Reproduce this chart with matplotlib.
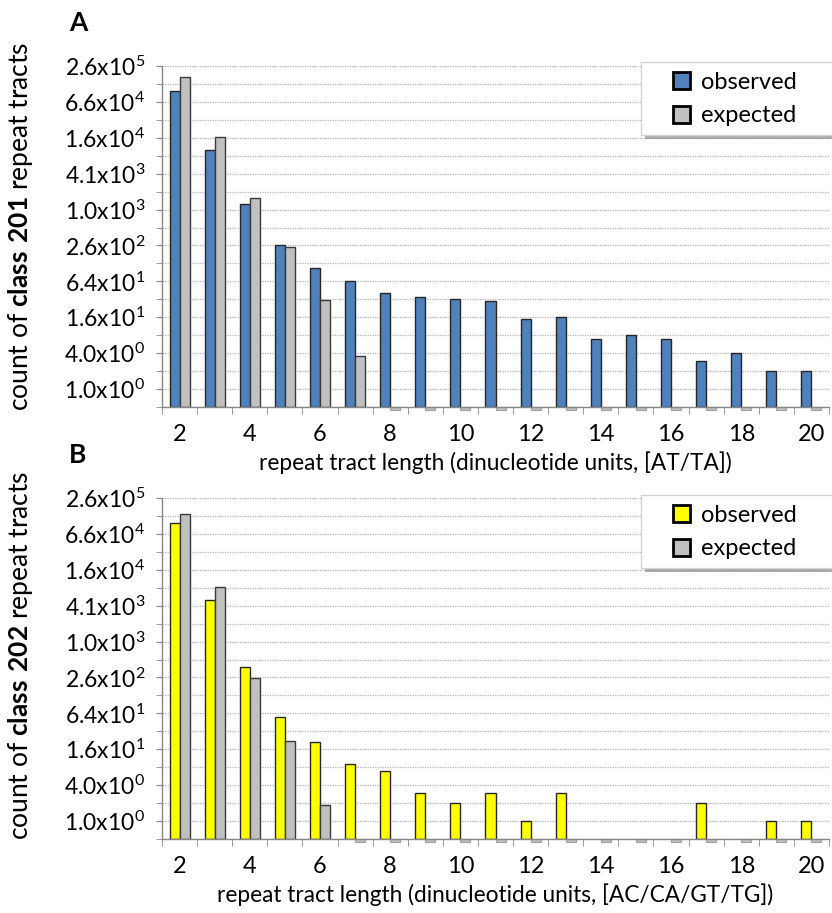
import numpy as np
import matplotlib
matplotlib.use('Agg')
import matplotlib.pyplot as plt
import matplotlib.patheffects as pe
from matplotlib.patches import Patch, Rectangle
from matplotlib.ticker import FixedLocator, FuncFormatter, NullFormatter

plt.rcParams['font.family'] = 'Lato'
plt.rcParams['mathtext.fontset'] = 'custom'
plt.rcParams['mathtext.rm'] = 'Lato'
plt.rcParams['mathtext.bf'] = 'Lato:bold'

# repeat tract length (dinucleotide units)
lengths = list(range(2, 21))

# class 201, [AT/TA]
obs_201 = [100000, 10300, 1270, 259, 108, 64, 41, 35, 32, 30, 15, 16, 7, 8, 7, 3, 4, 2, 2]
exp_201 = [174000, 17000, 1625, 237, 31, 3.6, 0, 0, 0, 0, 0, 0, 0, 0, 0, 0, 0, 0, 0]

# class 202, [AC/CA/GT/TG]
obs_202 = [100000, 5160, 382, 55, 21, 9, 7, 3, 2, 3, 1, 3, 0, 0, 0, 2, 0, 1, 1]
exp_202 = [143000, 8500, 250, 22.4, 1.83, 0, 0, 0, 0, 0, 0, 0, 0, 0, 0, 0, 0, 0, 0]

BLUE = '#4F81BD'
YELLOW = '#FFFF00'
GREY = '#C0C0C0'
AXIS_GREY = '#868686'

YMIN, YMAX = 2.0 ** -1, 2.0 ** 18
W = 832.0
H = 913.0


def sci_label(v, pos):
    e = int(np.floor(np.log10(v) + 1e-9))
    m = v / 10 ** e
    return r'$\mathregular{%.1fx10^{%d}}$' % (m, e)


def draw_panel(ax, obs, exp, obs_color, xlabel):
    x = np.arange(len(lengths))
    w = 0.285
    obs = np.array(obs, dtype=float)
    exp = np.array(exp, dtype=float)

    nz = obs > 0
    ax.bar(x[nz] - w, obs[nz] - YMIN, width=w, bottom=YMIN, align='edge',
           color=obs_color, edgecolor='#262626', linewidth=1.0)
    nz = exp > 0
    ax.bar(x[nz], exp[nz] - YMIN, width=w, bottom=YMIN, align='edge',
           color=GREY, edgecolor='#3a3a3a', linewidth=1.0)
    # zero values show as a small stub under the axis
    z = exp == 0
    stub = YMIN * 2 ** -0.17
    ax.bar(x[z], YMIN - stub, width=w, bottom=stub, align='edge',
           color=GREY, edgecolor='#a0a0a0', linewidth=0.8, clip_on=False)

    ax.set_yscale('log', base=2)
    ax.set_ylim(YMIN, YMAX)
    ax.yaxis.set_major_locator(FixedLocator([4.0 ** k for k in range(10)]))
    ax.yaxis.set_minor_locator(FixedLocator([2.0 ** (2 * k + 1) for k in range(-1, 9)]))
    ax.yaxis.set_major_formatter(FuncFormatter(sci_label))
    ax.yaxis.set_minor_formatter(NullFormatter())
    ax.grid(which='both', axis='y', color='#b4b4b4', linestyle=(0, (1, 1)), linewidth=0.9)
    ax.set_axisbelow(True)

    ax.set_xlim(-0.5, len(lengths) - 0.5)
    ax.set_xticks(x[::2])
    ax.set_xticklabels([str(v) for v in lengths[::2]])
    ax.xaxis.set_minor_locator(FixedLocator(np.arange(-0.5, len(lengths), 1.0)))

    ax.tick_params(axis='y', which='both', length=4, color=AXIS_GREY, pad=8, labelsize=16.5)
    ax.tick_params(axis='x', which='major', length=0, pad=12, labelsize=17)
    ax.tick_params(axis='x', which='minor', length=5, color=AXIS_GREY)

    for s in ('top', 'right'):
        ax.spines[s].set_visible(False)
    for s in ('left', 'bottom'):
        ax.spines[s].set_color(AXIS_GREY)
        ax.spines[s].set_linewidth(1.0)

    ax.set_xlabel(xlabel, fontsize=16.3, labelpad=5)


def add_legend(fig, top_px, obs_color):
    box = Rectangle((641 / W, 1 - (top_px + 73) / H), 0.3, 73 / H,
                    transform=fig.transFigure, facecolor='white',
                    edgecolor='#d4d4d4', linewidth=1.0, zorder=5,
                    path_effects=[pe.withSimplePatchShadow(offset=(3, -3),
                                                           shadow_rgbFace='#7a7a7a',
                                                           alpha=0.6)])
    fig.add_artist(box)
    handles = [Patch(facecolor=obs_color, edgecolor='black', linewidth=2),
               Patch(facecolor=GREY, edgecolor='black', linewidth=2)]
    leg = fig.legend(handles, ['observed', 'expected'], loc='center left',
                     bbox_to_anchor=(673 / W, 1 - (top_px + 37) / H),
                     frameon=False, fontsize=17, borderpad=0, borderaxespad=0,
                     handlelength=0.72, handleheight=0.72, handletextpad=0.45,
                     labelspacing=0.55)
    leg.set_zorder(6)


fig = plt.figure(figsize=(W / 100, H / 100), dpi=100)

ax_a = fig.add_axes([162 / W, 1 - 407 / H, 667 / W, 341 / H])
draw_panel(ax_a, obs_201, exp_201, BLUE,
           'repeat tract length (dinucleotide units, [AT/TA])')
ax_b = fig.add_axes([162 / W, 1 - 839 / H, 667 / W, 341 / H])
draw_panel(ax_b, obs_202, exp_202, YELLOW,
           'repeat tract length (dinucleotide units, [AC/CA/GT/TG])')

fig.text(21 / W, 1 - 226 / H, r'count of $\mathbf{class\ 201}$ repeat tracts',
         rotation=90, ha='center', va='center', fontsize=19)
fig.text(21 / W, 1 - 655 / H, r'count of $\mathbf{class\ 202}$ repeat tracts',
         rotation=90, ha='center', va='center', fontsize=19)

fig.text(69 / W, 1 - 23 / H, 'A', fontsize=19, fontweight='bold', ha='left', va='center')
fig.text(69 / W, 1 - 455 / H, 'B', fontsize=19, fontweight='bold', ha='left', va='center')

add_legend(fig, 62, BLUE)
add_legend(fig, 495, YELLOW)

fig.savefig('out.png', dpi=100)
